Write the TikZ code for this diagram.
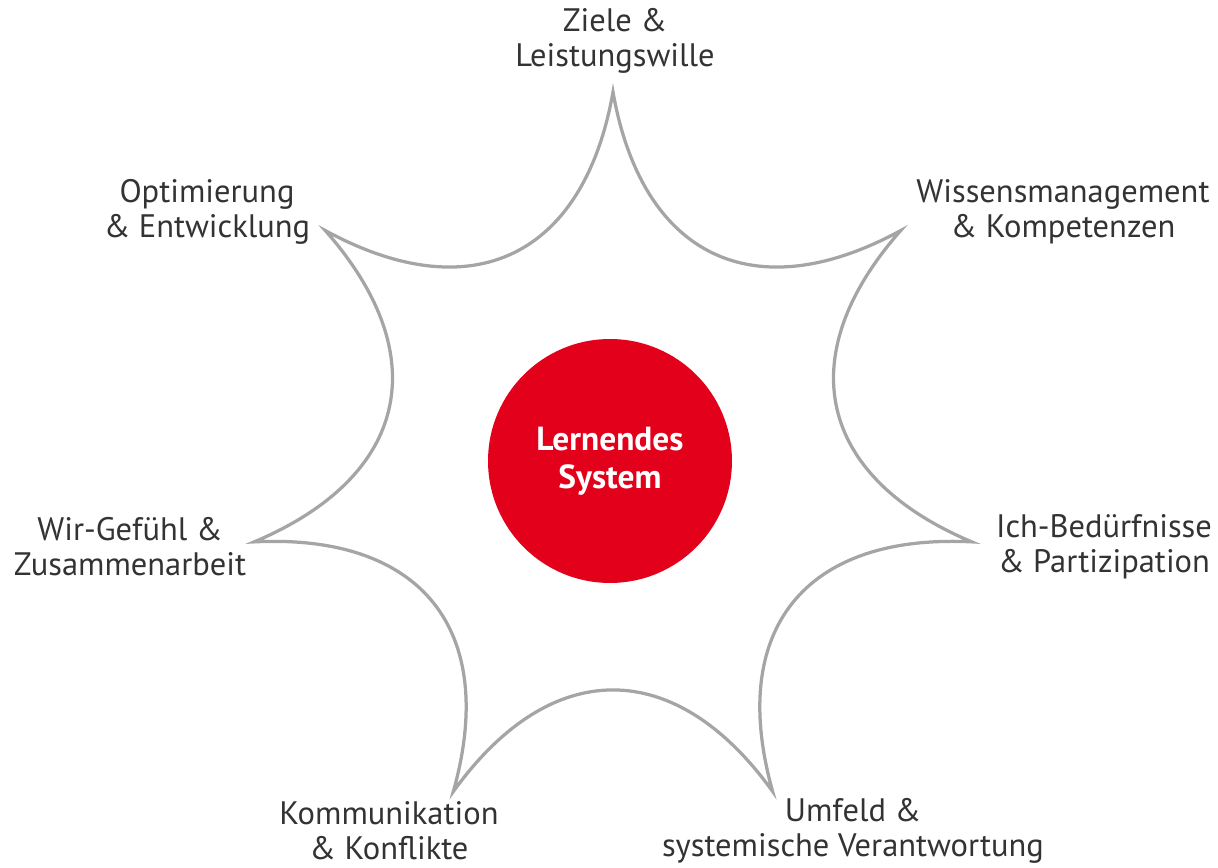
\documentclass[tikz,border=0pt]{standalone}
\usepackage{fontspec}
\setmainfont{PT Sans}
\usetikzlibrary{
  positioning,  % not strictly needed, labels sit at coordinates
  calc
}
\def\mytipr{368}   % radius of the star tips (px)
\def\mybend{10}    % tip deviation from radial (deg)
\definecolor{lsred}{HTML}{E2001A}
\definecolor{lsgrey}{HTML}{A5A5A5}
\definecolor{lstext}{HTML}{333333}
\tikzset{
  star line/.style={
    draw=lsgrey,
    line width=0.065cm,
    line join=miter,
    miter limit=20
  },
  my label/.style={
    align=center,
    text=lstext,
    inner sep=0pt,
    font=\fontsize{18.5}{20}\selectfont
  },
  my core/.style={
    circle,
    fill=lsred,
    text=white,
    inner sep=0pt,
    minimum size=4.88cm,
    align=center,
    font=\fontsize{19}{21.5}\selectfont\bfseries
  }
}

\begin{document}
\begin{tikzpicture}[x=0.02cm,y=0.02cm]
\useasboundingbox (-613,-408) rectangle (605,460);
% star with seven tips
\draw[star line] (90:\mytipr)
  \foreach \k [evaluate=\k as \aout using {90-(\k-1)*360/7+180+\mybend},
               evaluate=\k as \ain  using {90-\k*360/7+180-\mybend},
               evaluate=\k as \atip using {90-\k*360/7}] in {1,...,7}
  { to[out=\aout,in=\ain,looseness=1.34] (\atip:\mytipr) } -- cycle;
\node[my core]  (system) at (-3,-1)    {Lernendes\\System};
\node[my label] (ziele)  at (2,419)    {Ziele \&\\Leistungswille};
\node[my label] (wissen) at (450,248)  {Wissensmanagement\\\& Kompetenzen};
\node[my label] (ich)    at (491,-87)  {Ich-Bedürfnisse\\\& Partizipation};
\node[my label] (umfeld) at (240,-371) {Umfeld \&\\systemische Verantwortung};
\node[my label] (komm)   at (-224,-371){Kommunikation\\\& Konflikte};
\node[my label] (wir)    at (-483,-87) {Wir-Gefühl \&\\Zusammenarbeit};
\node[my label] (opti)   at (-406,248) {Optimierung\\\& Entwicklung};
\end{tikzpicture}
\end{document}
